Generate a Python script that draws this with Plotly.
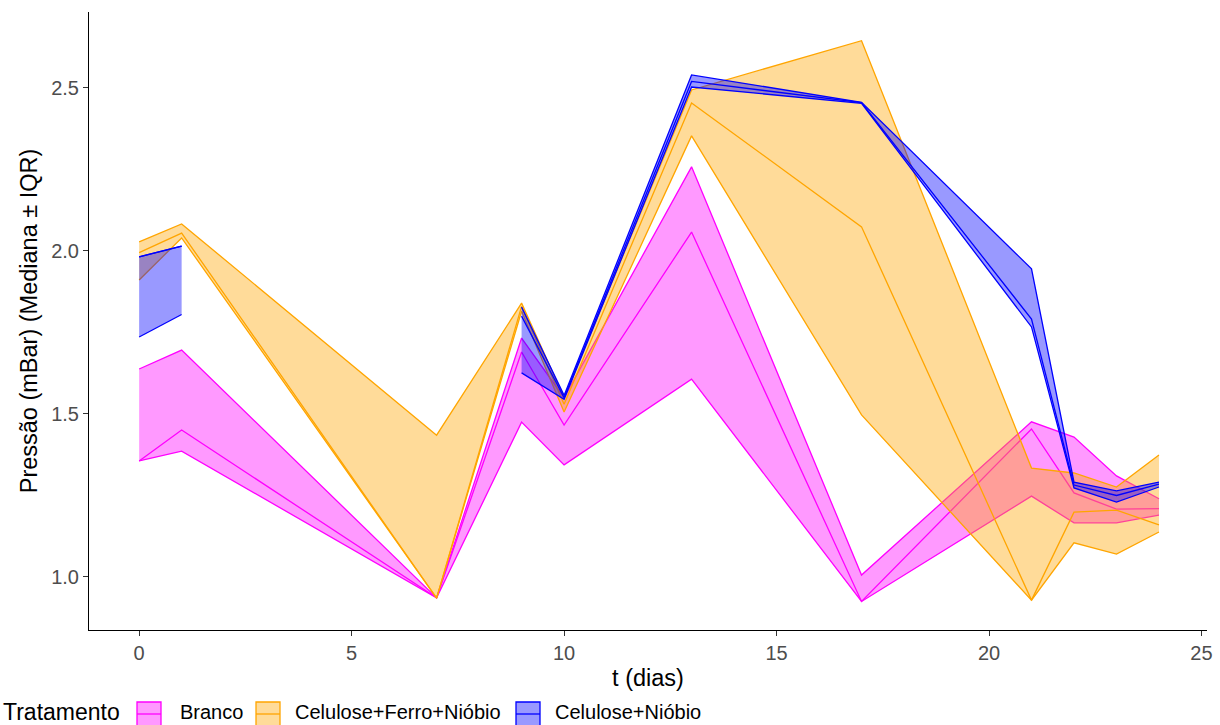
import plotly.graph_objects as go

# Sampling days
t = [0, 1, 7, 9, 10, 13, 17, 21, 22, 23, 24]

# Branco: quartiles and median (mBar)
branco_q3 = [1.638, 1.696, 0.936, 1.733, 1.550, 2.258, 1.006, 1.476, 1.429, 1.310, 1.240]
branco_med = [1.356, 1.451, 0.936, 1.690, 1.466, 2.058, 0.925, 1.454, 1.258, 1.208, 1.210]
branco_q1 = [1.356, 1.386, 0.936, 1.475, 1.344, 1.607, 0.925, 1.248, 1.166, 1.166, 1.190]

# Celulose+Ferro+Nióbio
cfn_q3 = [2.028, 2.083, 1.435, 1.840, 1.550, 2.494, 2.645, 1.334, 1.319, 1.276, 1.374]
cfn_med = [1.995, 2.055, 0.935, 1.830, 1.530, 2.454, 2.074, 0.929, 1.199, 1.205, 1.160]
cfn_q1 = [1.911, 2.040, 0.935, 1.815, 1.506, 2.353, 1.497, 0.929, 1.105, 1.070, 1.138]

# Celulose+Nióbio (no reading on day 7)
cn_q3 = [1.982, 2.015, None, 1.828, 1.557, 2.540, 2.456, 1.945, 1.291, 1.264, 1.291]
cn_med = [1.982, 2.015, None, 1.800, 1.550, 2.520, 2.455, 1.791, 1.282, 1.250, 1.285]
cn_q1 = [1.736, 1.805, None, 1.626, 1.545, 2.503, 2.453, 1.767, 1.273, 1.230, 1.276]

tratamentos = ["Branco", "Celulose+Ferro+Nióbio", "Celulose+Nióbio"]
line_colors = ["#FF00FF", "#FFA500", "#0000FF"]
fill_colors = ["rgba(255,0,255,0.4)", "rgba(255,165,0,0.4)", "rgba(0,0,255,0.4)"]
series = [
    (branco_q1, branco_med, branco_q3),
    (cfn_q1, cfn_med, cfn_q3),
    (cn_q1, cn_med, cn_q3),
]

FONT = "Liberation Sans, Arial, sans-serif"
W, H = 1220, 725
ML, MR, MT, MB = 89, 13, 12, 95
LW = 1.3


def segments(x, lo, hi):
    """Split into runs of consecutive non-missing points."""
    runs, cur = [], []
    for xi, a, b in zip(x, lo, hi):
        if a is None or b is None:
            if cur:
                runs.append(cur)
            cur = []
        else:
            cur.append((xi, a, b))
    if cur:
        runs.append(cur)
    return runs


fig = go.Figure()

for name, (lo, med, hi), col, fillc in zip(tratamentos, series, line_colors, fill_colors):
    for run in segments(t, lo, hi):
        xs = [p[0] for p in run]
        los = [p[1] for p in run]
        his = [p[2] for p in run]
        # interquartile ribbon
        fig.add_trace(go.Scatter(
            x=xs + xs[::-1], y=his + los[::-1], fill="toself", fillcolor=fillc,
            mode="none", hoverinfo="skip", showlegend=False))
        # ribbon edges
        for yy in (his, los):
            fig.add_trace(go.Scatter(
                x=xs, y=yy, mode="lines", line=dict(color=col, width=LW),
                hoverinfo="skip", showlegend=False))
    # median line
    fig.add_trace(go.Scatter(
        x=t, y=med, mode="lines", line=dict(color=col, width=LW),
        connectgaps=False, showlegend=False, name=name))

axis_common = dict(
    showgrid=False, zeroline=False, showline=True, linecolor="black", linewidth=1,
    ticks="outside", ticklen=5, tickcolor="#333333", tickwidth=1,
    tickfont=dict(family=FONT, size=20, color="#4D4D4D"),
    automargin=False,
)

# Legend drawn below the panel: title, square keys with median stroke, labels
plot_w = W - ML - MR
plot_h = H - MT - MB


def px_x(px):
    return (px - ML) / plot_w


def px_y(py):
    return (H - MB - py) / plot_h


shapes, annotations = [], []
legend_cy = 712
key = 24
annotations.append(dict(
    text="Tratamento", xref="paper", yref="paper", x=px_x(1), y=px_y(legend_cy),
    xanchor="left", yanchor="middle", showarrow=False,
    font=dict(family=FONT, size=23, color="black")))
key_left = [137, 256, 516]
label_left = [178, 293, 553]
for name, col, fillc, kx, lx in zip(tratamentos, line_colors, fill_colors, key_left, label_left):
    shapes.append(dict(
        type="rect", xref="paper", yref="paper",
        x0=px_x(kx), x1=px_x(kx + key), y0=px_y(legend_cy + 2 - key / 2), y1=px_y(legend_cy + 2 + key / 2),
        fillcolor=fillc, line=dict(color=col, width=LW)))
    shapes.append(dict(
        type="line", xref="paper", yref="paper",
        x0=px_x(kx), x1=px_x(kx + key), y0=px_y(legend_cy + 2), y1=px_y(legend_cy + 2),
        line=dict(color=col, width=LW)))
    annotations.append(dict(
        text=name, xref="paper", yref="paper", x=px_x(lx), y=px_y(legend_cy),
        xanchor="left", yanchor="middle", showarrow=False,
        font=dict(family=FONT, size=20, color="black")))

fig.update_layout(
    width=W, height=H,
    margin=dict(l=ML, r=MR, t=MT, b=MB, autoexpand=False),
    plot_bgcolor="white", paper_bgcolor="white",
    font=dict(family=FONT, color="black"),
    xaxis=dict(range=[-1.18, 25.13], tickvals=[0, 5, 10, 15, 20, 25],
               title=dict(text="t (dias)", font=dict(size=23.5), standoff=6), **axis_common),
    yaxis=dict(range=[0.8374, 2.733], tickvals=[1.0, 1.5, 2.0, 2.5],
               ticktext=["1.0", "1.5", "2.0", "2.5"],
               title=dict(text="Pressão (mBar) (Mediana ± IQR)", font=dict(size=23.5), standoff=6),
               **axis_common),
    shapes=shapes, annotations=annotations,
    showlegend=False,
)

fig.write_html("out.html")
